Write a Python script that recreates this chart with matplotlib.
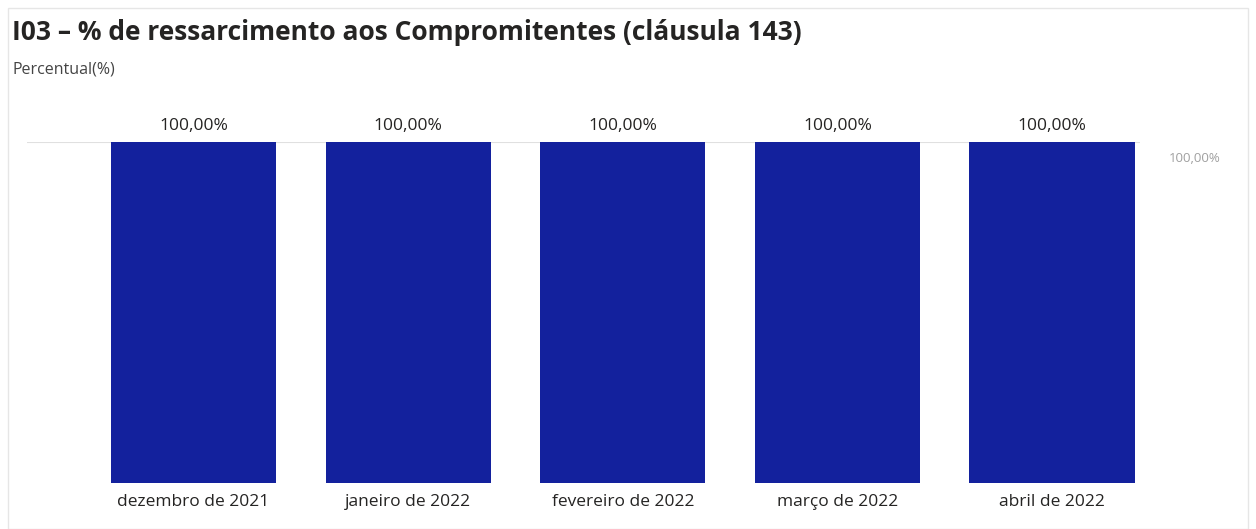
import matplotlib.pyplot as plt
from matplotlib.patches import Rectangle

plt.rcParams['font.family'] = ['Open Sans', 'DejaVu Sans']

months = ['dezembro de 2021', 'janeiro de 2022', 'fevereiro de 2022',
          'março de 2022', 'abril de 2022']
values = [100.0, 100.0, 100.0, 100.0, 100.0]
value_labels = ['100,00%', '100,00%', '100,00%', '100,00%', '100,00%']

W, H = 1256, 529
fig = plt.figure(figsize=(W / 100, H / 100), dpi=100)

# card border
fig.patches.append(Rectangle((8 / W, 0), 1240 / W, 1 - 8 / H, transform=fig.transFigure,
                             fill=False, edgecolor='#e6e6e6', linewidth=1))

ax = fig.add_axes([27 / W, 1 - 483 / H, (1140 - 27) / W, (483 - 142) / H])
x = range(len(months))
ax.bar(x, values, width=0.77, color='#13219d', zorder=2)
ax.set_xlim(-0.776, 4.41)
ax.set_ylim(0, 100)

ax.axhline(100, color='#e0e0e0', linewidth=1.5, zorder=1)
for xi, v, lab in zip(x, values, value_labels):
    ax.text(xi, v + 2.3, lab, ha='center', va='bottom', fontsize=12.5, color='#252423', clip_on=False)

ax.set_xticks(list(x))
ax.set_xticklabels(months, fontsize=12.5, color='#252423')
ax.tick_params(axis='x', length=0, pad=8)
ax.set_yticks([])
for s in ax.spines.values():
    s.set_visible(False)

fig.text(1169 / W, 1 - 158 / H, '100,00%', fontsize=9.5, color='#a0a0a0', va='center', ha='left')
fig.text(12 / W, 1 - 33 / H, 'I03 – % de ressarcimento aos Compromitentes (cláusula 143)',
         fontsize=19, fontweight='bold', color='#252423', va='center', ha='left')
fig.text(12 / W, 1 - 70 / H, 'Percentual(%)', fontsize=11.5, color='#444444', va='center', ha='left')

fig.savefig('out.png', dpi=100)
